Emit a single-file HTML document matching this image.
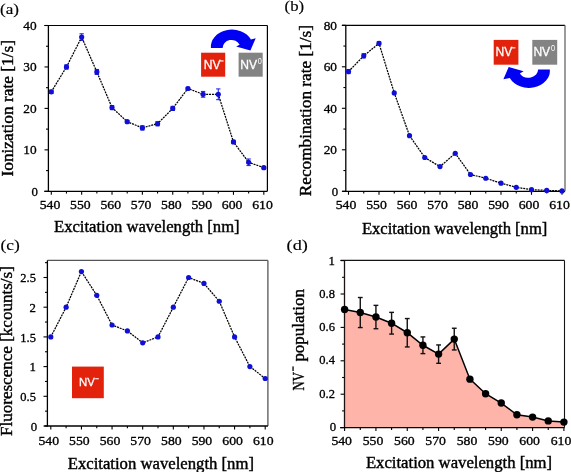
<!DOCTYPE html><html><head><meta charset="utf-8"><style>html,body{margin:0;padding:0;background:#fff;}svg{display:block;will-change:transform}</style></head><body>
<svg width="571" height="472" viewBox="0 0 571 472" font-family="Liberation Serif" fill="#000"><style>text{stroke:#000;stroke-width:0.4px}</style>
<rect width="571" height="472" fill="#fff"/>
<line x1="44.3" y1="25.5" x2="267.4" y2="25.5" stroke="#000" stroke-width="1.2" />
<line x1="267.4" y1="25.5" x2="267.4" y2="191.3" stroke="#000" stroke-width="1.2" />
<line x1="44.5" y1="191.3" x2="48.4" y2="191.3" stroke="#000" stroke-width="1.1" />
<line x1="46" y1="170.58" x2="48.4" y2="170.58" stroke="#000" stroke-width="1.1" />
<line x1="44.5" y1="149.85" x2="48.4" y2="149.85" stroke="#000" stroke-width="1.1" />
<line x1="46" y1="129.12" x2="48.4" y2="129.12" stroke="#000" stroke-width="1.1" />
<line x1="44.5" y1="108.4" x2="48.4" y2="108.4" stroke="#000" stroke-width="1.1" />
<line x1="46" y1="87.68" x2="48.4" y2="87.68" stroke="#000" stroke-width="1.1" />
<line x1="44.5" y1="66.95" x2="48.4" y2="66.95" stroke="#000" stroke-width="1.1" />
<line x1="46" y1="46.23" x2="48.4" y2="46.23" stroke="#000" stroke-width="1.1" />
<line x1="44.5" y1="25.5" x2="48.4" y2="25.5" stroke="#000" stroke-width="1.1" />
<line x1="51.3" y1="191.3" x2="51.3" y2="194.8" stroke="#000" stroke-width="1.1" />
<line x1="66.48" y1="191.3" x2="66.48" y2="193.6" stroke="#000" stroke-width="1.1" />
<line x1="81.66" y1="191.3" x2="81.66" y2="194.8" stroke="#000" stroke-width="1.1" />
<line x1="96.84" y1="191.3" x2="96.84" y2="193.6" stroke="#000" stroke-width="1.1" />
<line x1="112.02" y1="191.3" x2="112.02" y2="194.8" stroke="#000" stroke-width="1.1" />
<line x1="127.2" y1="191.3" x2="127.2" y2="193.6" stroke="#000" stroke-width="1.1" />
<line x1="142.38" y1="191.3" x2="142.38" y2="194.8" stroke="#000" stroke-width="1.1" />
<line x1="157.56" y1="191.3" x2="157.56" y2="193.6" stroke="#000" stroke-width="1.1" />
<line x1="172.74" y1="191.3" x2="172.74" y2="194.8" stroke="#000" stroke-width="1.1" />
<line x1="187.92" y1="191.3" x2="187.92" y2="193.6" stroke="#000" stroke-width="1.1" />
<line x1="203.1" y1="191.3" x2="203.1" y2="194.8" stroke="#000" stroke-width="1.1" />
<line x1="218.28" y1="191.3" x2="218.28" y2="193.6" stroke="#000" stroke-width="1.1" />
<line x1="233.46" y1="191.3" x2="233.46" y2="194.8" stroke="#000" stroke-width="1.1" />
<line x1="248.64" y1="191.3" x2="248.64" y2="193.6" stroke="#000" stroke-width="1.1" />
<line x1="263.82" y1="191.3" x2="263.82" y2="194.8" stroke="#000" stroke-width="1.1" />
<line x1="48.4" y1="25.5" x2="48.4" y2="191.9" stroke="#000" stroke-width="1.3" />
<line x1="44.3" y1="191.3" x2="267.4" y2="191.3" stroke="#000" stroke-width="1.3" />
<text x="37.8" y="195.6" font-size="12" text-anchor="end" textLength="6.4" lengthAdjust="spacingAndGlyphs" style="stroke-width:0.3px">0</text>
<text x="36.6" y="154.15" font-size="12" text-anchor="end" textLength="13.3" lengthAdjust="spacingAndGlyphs" style="stroke-width:0.3px">10</text>
<text x="36.6" y="112.7" font-size="12" text-anchor="end" textLength="13.3" lengthAdjust="spacingAndGlyphs" style="stroke-width:0.3px">20</text>
<text x="36.6" y="71.25" font-size="12" text-anchor="end" textLength="13.3" lengthAdjust="spacingAndGlyphs" style="stroke-width:0.3px">30</text>
<text x="36.6" y="29.8" font-size="12" text-anchor="end" textLength="13.3" lengthAdjust="spacingAndGlyphs" style="stroke-width:0.3px">40</text>
<text x="50" y="208.8" font-size="12" text-anchor="middle" textLength="20.6" lengthAdjust="spacingAndGlyphs" style="stroke-width:0.3px">540</text>
<text x="80.36" y="208.8" font-size="12" text-anchor="middle" textLength="20.6" lengthAdjust="spacingAndGlyphs" style="stroke-width:0.3px">550</text>
<text x="110.72" y="208.8" font-size="12" text-anchor="middle" textLength="20.6" lengthAdjust="spacingAndGlyphs" style="stroke-width:0.3px">560</text>
<text x="141.08" y="208.8" font-size="12" text-anchor="middle" textLength="20.6" lengthAdjust="spacingAndGlyphs" style="stroke-width:0.3px">570</text>
<text x="171.44" y="208.8" font-size="12" text-anchor="middle" textLength="20.6" lengthAdjust="spacingAndGlyphs" style="stroke-width:0.3px">580</text>
<text x="201.8" y="208.8" font-size="12" text-anchor="middle" textLength="20.6" lengthAdjust="spacingAndGlyphs" style="stroke-width:0.3px">590</text>
<text x="232.16" y="208.8" font-size="12" text-anchor="middle" textLength="20.6" lengthAdjust="spacingAndGlyphs" style="stroke-width:0.3px">600</text>
<text x="262.52" y="208.8" font-size="12" text-anchor="middle" textLength="20.6" lengthAdjust="spacingAndGlyphs" style="stroke-width:0.3px">610</text>
<line x1="51.3" y1="90.16" x2="51.3" y2="93.48" stroke="#1a1aee" stroke-width="1" />
<line x1="49.1" y1="90.16" x2="53.5" y2="90.16" stroke="#1a1aee" stroke-width="1" />
<line x1="49.1" y1="93.48" x2="53.5" y2="93.48" stroke="#1a1aee" stroke-width="1" />
<line x1="66.48" y1="64.88" x2="66.48" y2="69.02" stroke="#1a1aee" stroke-width="1" />
<line x1="64.28" y1="64.88" x2="68.68" y2="64.88" stroke="#1a1aee" stroke-width="1" />
<line x1="64.28" y1="69.02" x2="68.68" y2="69.02" stroke="#1a1aee" stroke-width="1" />
<line x1="81.66" y1="33.79" x2="81.66" y2="40.42" stroke="#1a1aee" stroke-width="1" />
<line x1="79.46" y1="33.79" x2="83.86" y2="33.79" stroke="#1a1aee" stroke-width="1" />
<line x1="79.46" y1="40.42" x2="83.86" y2="40.42" stroke="#1a1aee" stroke-width="1" />
<line x1="96.84" y1="69.44" x2="96.84" y2="74.41" stroke="#1a1aee" stroke-width="1" />
<line x1="94.64" y1="69.44" x2="99.04" y2="69.44" stroke="#1a1aee" stroke-width="1" />
<line x1="94.64" y1="74.41" x2="99.04" y2="74.41" stroke="#1a1aee" stroke-width="1" />
<line x1="112.02" y1="105.5" x2="112.02" y2="109.64" stroke="#1a1aee" stroke-width="1" />
<line x1="109.82" y1="105.5" x2="114.22" y2="105.5" stroke="#1a1aee" stroke-width="1" />
<line x1="109.82" y1="109.64" x2="114.22" y2="109.64" stroke="#1a1aee" stroke-width="1" />
<line x1="127.2" y1="120.42" x2="127.2" y2="122.91" stroke="#1a1aee" stroke-width="1" />
<line x1="125" y1="120.42" x2="129.4" y2="120.42" stroke="#1a1aee" stroke-width="1" />
<line x1="125" y1="122.91" x2="129.4" y2="122.91" stroke="#1a1aee" stroke-width="1" />
<line x1="142.38" y1="125.81" x2="142.38" y2="129.95" stroke="#1a1aee" stroke-width="1" />
<line x1="140.18" y1="125.81" x2="144.58" y2="125.81" stroke="#1a1aee" stroke-width="1" />
<line x1="140.18" y1="129.95" x2="144.58" y2="129.95" stroke="#1a1aee" stroke-width="1" />
<line x1="157.56" y1="121.66" x2="157.56" y2="125.81" stroke="#1a1aee" stroke-width="1" />
<line x1="155.36" y1="121.66" x2="159.76" y2="121.66" stroke="#1a1aee" stroke-width="1" />
<line x1="155.36" y1="125.81" x2="159.76" y2="125.81" stroke="#1a1aee" stroke-width="1" />
<line x1="172.74" y1="106.33" x2="172.74" y2="110.47" stroke="#1a1aee" stroke-width="1" />
<line x1="170.54" y1="106.33" x2="174.94" y2="106.33" stroke="#1a1aee" stroke-width="1" />
<line x1="170.54" y1="110.47" x2="174.94" y2="110.47" stroke="#1a1aee" stroke-width="1" />
<line x1="187.92" y1="87.26" x2="187.92" y2="89.75" stroke="#1a1aee" stroke-width="1" />
<line x1="185.72" y1="87.26" x2="190.12" y2="87.26" stroke="#1a1aee" stroke-width="1" />
<line x1="185.72" y1="89.75" x2="190.12" y2="89.75" stroke="#1a1aee" stroke-width="1" />
<line x1="203.1" y1="91.41" x2="203.1" y2="97.21" stroke="#1a1aee" stroke-width="1" />
<line x1="200.9" y1="91.41" x2="205.3" y2="91.41" stroke="#1a1aee" stroke-width="1" />
<line x1="200.9" y1="97.21" x2="205.3" y2="97.21" stroke="#1a1aee" stroke-width="1" />
<line x1="218.28" y1="88.92" x2="218.28" y2="99.7" stroke="#1a1aee" stroke-width="1" />
<line x1="216.08" y1="88.92" x2="220.48" y2="88.92" stroke="#1a1aee" stroke-width="1" />
<line x1="216.08" y1="99.7" x2="220.48" y2="99.7" stroke="#1a1aee" stroke-width="1" />
<line x1="233.46" y1="140.32" x2="233.46" y2="143.63" stroke="#1a1aee" stroke-width="1" />
<line x1="231.26" y1="140.32" x2="235.66" y2="140.32" stroke="#1a1aee" stroke-width="1" />
<line x1="231.26" y1="143.63" x2="235.66" y2="143.63" stroke="#1a1aee" stroke-width="1" />
<line x1="248.64" y1="158.97" x2="248.64" y2="165.6" stroke="#1a1aee" stroke-width="1" />
<line x1="246.44" y1="158.97" x2="250.84" y2="158.97" stroke="#1a1aee" stroke-width="1" />
<line x1="246.44" y1="165.6" x2="250.84" y2="165.6" stroke="#1a1aee" stroke-width="1" />
<line x1="263.82" y1="166.43" x2="263.82" y2="168.92" stroke="#1a1aee" stroke-width="1" />
<line x1="261.62" y1="166.43" x2="266.02" y2="166.43" stroke="#1a1aee" stroke-width="1" />
<line x1="261.62" y1="168.92" x2="266.02" y2="168.92" stroke="#1a1aee" stroke-width="1" />
<polyline points="51.3,91.82 66.48,66.95 81.66,37.11 96.84,71.92 112.02,107.57 127.2,121.66 142.38,127.88 157.56,123.74 172.74,108.4 187.92,88.5 203.1,94.31 218.28,94.31 233.46,141.97 248.64,162.29 263.82,167.67" fill="none" stroke="#000" stroke-width="1.25" stroke-opacity="1" stroke-dasharray="2 0.9"/>
<circle cx="51.3" cy="91.82" r="2.6" fill="#0f0fd8"/>
<circle cx="66.48" cy="66.95" r="2.6" fill="#0f0fd8"/>
<circle cx="81.66" cy="37.11" r="2.6" fill="#0f0fd8"/>
<circle cx="96.84" cy="71.92" r="2.6" fill="#0f0fd8"/>
<circle cx="112.02" cy="107.57" r="2.6" fill="#0f0fd8"/>
<circle cx="127.2" cy="121.66" r="2.6" fill="#0f0fd8"/>
<circle cx="142.38" cy="127.88" r="2.6" fill="#0f0fd8"/>
<circle cx="157.56" cy="123.74" r="2.6" fill="#0f0fd8"/>
<circle cx="172.74" cy="108.4" r="2.6" fill="#0f0fd8"/>
<circle cx="187.92" cy="88.5" r="2.6" fill="#0f0fd8"/>
<circle cx="203.1" cy="94.31" r="2.6" fill="#0f0fd8"/>
<circle cx="218.28" cy="94.31" r="2.6" fill="#0f0fd8"/>
<circle cx="233.46" cy="141.97" r="2.6" fill="#0f0fd8"/>
<circle cx="248.64" cy="162.29" r="2.6" fill="#0f0fd8"/>
<circle cx="263.82" cy="167.67" r="2.6" fill="#0f0fd8"/>
<text x="54" y="232" font-size="16" text-anchor="start" textLength="185.6" lengthAdjust="spacingAndGlyphs" >Excitation wavelength [nm]</text>
<text transform="translate(12.7,176.5) rotate(-90)" x="0" y="0" font-size="16" textLength="136.4" lengthAdjust="spacingAndGlyphs" >Ionization rate [1/s]</text>
<text x="0" y="14.4" font-size="15" text-anchor="start" textLength="19" lengthAdjust="spacingAndGlyphs" style="stroke-width:0.15px">(a)</text>
<line x1="341.9" y1="25.3" x2="565" y2="25.3" stroke="#000" stroke-width="1.3" />
<line x1="565" y1="25.3" x2="565" y2="191.3" stroke="#666" stroke-width="1.3" />
<line x1="341.9" y1="191.3" x2="345.8" y2="191.3" stroke="#000" stroke-width="1.1" />
<line x1="343.4" y1="170.55" x2="345.8" y2="170.55" stroke="#000" stroke-width="1.1" />
<line x1="341.9" y1="149.8" x2="345.8" y2="149.8" stroke="#000" stroke-width="1.1" />
<line x1="343.4" y1="129.05" x2="345.8" y2="129.05" stroke="#000" stroke-width="1.1" />
<line x1="341.9" y1="108.3" x2="345.8" y2="108.3" stroke="#000" stroke-width="1.1" />
<line x1="343.4" y1="87.55" x2="345.8" y2="87.55" stroke="#000" stroke-width="1.1" />
<line x1="341.9" y1="66.8" x2="345.8" y2="66.8" stroke="#000" stroke-width="1.1" />
<line x1="343.4" y1="46.05" x2="345.8" y2="46.05" stroke="#000" stroke-width="1.1" />
<line x1="341.9" y1="25.3" x2="345.8" y2="25.3" stroke="#000" stroke-width="1.1" />
<line x1="348.5" y1="191.3" x2="348.5" y2="194.8" stroke="#000" stroke-width="1.1" />
<line x1="363.75" y1="191.3" x2="363.75" y2="193.6" stroke="#000" stroke-width="1.1" />
<line x1="379" y1="191.3" x2="379" y2="194.8" stroke="#000" stroke-width="1.1" />
<line x1="394.25" y1="191.3" x2="394.25" y2="193.6" stroke="#000" stroke-width="1.1" />
<line x1="409.5" y1="191.3" x2="409.5" y2="194.8" stroke="#000" stroke-width="1.1" />
<line x1="424.75" y1="191.3" x2="424.75" y2="193.6" stroke="#000" stroke-width="1.1" />
<line x1="440" y1="191.3" x2="440" y2="194.8" stroke="#000" stroke-width="1.1" />
<line x1="455.25" y1="191.3" x2="455.25" y2="193.6" stroke="#000" stroke-width="1.1" />
<line x1="470.5" y1="191.3" x2="470.5" y2="194.8" stroke="#000" stroke-width="1.1" />
<line x1="485.75" y1="191.3" x2="485.75" y2="193.6" stroke="#000" stroke-width="1.1" />
<line x1="501" y1="191.3" x2="501" y2="194.8" stroke="#000" stroke-width="1.1" />
<line x1="516.25" y1="191.3" x2="516.25" y2="193.6" stroke="#000" stroke-width="1.1" />
<line x1="531.5" y1="191.3" x2="531.5" y2="194.8" stroke="#000" stroke-width="1.1" />
<line x1="546.75" y1="191.3" x2="546.75" y2="193.6" stroke="#000" stroke-width="1.1" />
<line x1="562" y1="191.3" x2="562" y2="194.8" stroke="#000" stroke-width="1.1" />
<line x1="345.8" y1="25.3" x2="345.8" y2="191.9" stroke="#000" stroke-width="1.3" />
<line x1="342.3" y1="191.3" x2="565" y2="191.3" stroke="#000" stroke-width="1.3" />
<text x="338.2" y="195.6" font-size="12" text-anchor="end" textLength="6.4" lengthAdjust="spacingAndGlyphs" style="stroke-width:0.3px">0</text>
<text x="337" y="154.1" font-size="12" text-anchor="end" textLength="13.3" lengthAdjust="spacingAndGlyphs" style="stroke-width:0.3px">20</text>
<text x="337" y="112.6" font-size="12" text-anchor="end" textLength="13.3" lengthAdjust="spacingAndGlyphs" style="stroke-width:0.3px">40</text>
<text x="337" y="71.1" font-size="12" text-anchor="end" textLength="13.3" lengthAdjust="spacingAndGlyphs" style="stroke-width:0.3px">60</text>
<text x="337" y="29.6" font-size="12" text-anchor="end" textLength="13.3" lengthAdjust="spacingAndGlyphs" style="stroke-width:0.3px">80</text>
<text x="346" y="208.8" font-size="12" text-anchor="middle" textLength="20.6" lengthAdjust="spacingAndGlyphs" style="stroke-width:0.3px">540</text>
<text x="376.5" y="208.8" font-size="12" text-anchor="middle" textLength="20.6" lengthAdjust="spacingAndGlyphs" style="stroke-width:0.3px">550</text>
<text x="407" y="208.8" font-size="12" text-anchor="middle" textLength="20.6" lengthAdjust="spacingAndGlyphs" style="stroke-width:0.3px">560</text>
<text x="437.5" y="208.8" font-size="12" text-anchor="middle" textLength="20.6" lengthAdjust="spacingAndGlyphs" style="stroke-width:0.3px">570</text>
<text x="468" y="208.8" font-size="12" text-anchor="middle" textLength="20.6" lengthAdjust="spacingAndGlyphs" style="stroke-width:0.3px">580</text>
<text x="498.5" y="208.8" font-size="12" text-anchor="middle" textLength="20.6" lengthAdjust="spacingAndGlyphs" style="stroke-width:0.3px">590</text>
<text x="529" y="208.8" font-size="12" text-anchor="middle" textLength="20.6" lengthAdjust="spacingAndGlyphs" style="stroke-width:0.3px">600</text>
<text x="559.5" y="208.8" font-size="12" text-anchor="middle" textLength="20.6" lengthAdjust="spacingAndGlyphs" style="stroke-width:0.3px">610</text>
<line x1="348.5" y1="69.5" x2="348.5" y2="73.65" stroke="#1a1aee" stroke-width="1" />
<line x1="346.3" y1="69.5" x2="350.7" y2="69.5" stroke="#1a1aee" stroke-width="1" />
<line x1="346.3" y1="73.65" x2="350.7" y2="73.65" stroke="#1a1aee" stroke-width="1" />
<line x1="363.75" y1="53.73" x2="363.75" y2="57.88" stroke="#1a1aee" stroke-width="1" />
<line x1="361.55" y1="53.73" x2="365.95" y2="53.73" stroke="#1a1aee" stroke-width="1" />
<line x1="361.55" y1="57.88" x2="365.95" y2="57.88" stroke="#1a1aee" stroke-width="1" />
<line x1="379" y1="41.69" x2="379" y2="45.01" stroke="#1a1aee" stroke-width="1" />
<line x1="376.8" y1="41.69" x2="381.2" y2="41.69" stroke="#1a1aee" stroke-width="1" />
<line x1="376.8" y1="45.01" x2="381.2" y2="45.01" stroke="#1a1aee" stroke-width="1" />
<polyline points="348.5,71.57 363.75,55.8 379,43.35 394.25,92.95 409.5,135.69 424.75,157.48 440,166.61 455.25,153.33 470.5,174.49 485.75,178.23 501,183.21 516.25,187.36 531.5,189.64 546.75,190.47 562,190.89" fill="none" stroke="#000" stroke-width="1.25" stroke-opacity="1" stroke-dasharray="2 0.9"/>
<circle cx="348.5" cy="71.57" r="2.6" fill="#0f0fd8"/>
<circle cx="363.75" cy="55.8" r="2.6" fill="#0f0fd8"/>
<circle cx="379" cy="43.35" r="2.6" fill="#0f0fd8"/>
<circle cx="394.25" cy="92.95" r="2.6" fill="#0f0fd8"/>
<circle cx="409.5" cy="135.69" r="2.6" fill="#0f0fd8"/>
<circle cx="424.75" cy="157.48" r="2.6" fill="#0f0fd8"/>
<circle cx="440" cy="166.61" r="2.6" fill="#0f0fd8"/>
<circle cx="455.25" cy="153.33" r="2.6" fill="#0f0fd8"/>
<circle cx="470.5" cy="174.49" r="2.6" fill="#0f0fd8"/>
<circle cx="485.75" cy="178.23" r="2.6" fill="#0f0fd8"/>
<circle cx="501" cy="183.21" r="2.6" fill="#0f0fd8"/>
<circle cx="516.25" cy="187.36" r="2.6" fill="#0f0fd8"/>
<circle cx="531.5" cy="189.64" r="2.6" fill="#0f0fd8"/>
<circle cx="546.75" cy="190.47" r="2.6" fill="#0f0fd8"/>
<circle cx="562" cy="190.89" r="2.6" fill="#0f0fd8"/>
<text x="361.9" y="233.6" font-size="16" text-anchor="start" textLength="185.5" lengthAdjust="spacingAndGlyphs" >Excitation wavelength [nm]</text>
<text transform="translate(311.3,196.2) rotate(-90)" x="0" y="0" font-size="16" textLength="171.2" lengthAdjust="spacingAndGlyphs" >Recombination rate [1/s]</text>
<text x="284.6" y="11.1" font-size="15" text-anchor="start" textLength="19.5" lengthAdjust="spacingAndGlyphs" style="stroke-width:0.15px">(b)</text>
<line x1="47.4" y1="260.4" x2="267.9" y2="260.4" stroke="#555" stroke-width="1.3" />
<line x1="267.9" y1="260.4" x2="267.9" y2="426" stroke="#555" stroke-width="1.3" />
<line x1="43.5" y1="426" x2="47.4" y2="426" stroke="#000" stroke-width="1.1" />
<line x1="45" y1="411.15" x2="47.4" y2="411.15" stroke="#000" stroke-width="1.1" />
<line x1="43.5" y1="396.3" x2="47.4" y2="396.3" stroke="#000" stroke-width="1.1" />
<line x1="45" y1="381.45" x2="47.4" y2="381.45" stroke="#000" stroke-width="1.1" />
<line x1="43.5" y1="366.6" x2="47.4" y2="366.6" stroke="#000" stroke-width="1.1" />
<line x1="45" y1="351.75" x2="47.4" y2="351.75" stroke="#000" stroke-width="1.1" />
<line x1="43.5" y1="336.9" x2="47.4" y2="336.9" stroke="#000" stroke-width="1.1" />
<line x1="45" y1="322.05" x2="47.4" y2="322.05" stroke="#000" stroke-width="1.1" />
<line x1="43.5" y1="307.2" x2="47.4" y2="307.2" stroke="#000" stroke-width="1.1" />
<line x1="45" y1="292.35" x2="47.4" y2="292.35" stroke="#000" stroke-width="1.1" />
<line x1="43.5" y1="277.5" x2="47.4" y2="277.5" stroke="#000" stroke-width="1.1" />
<line x1="45" y1="262.65" x2="47.4" y2="262.65" stroke="#000" stroke-width="1.1" />
<line x1="50.8" y1="426" x2="50.8" y2="429.5" stroke="#000" stroke-width="1.1" />
<line x1="66.11" y1="426" x2="66.11" y2="428.3" stroke="#000" stroke-width="1.1" />
<line x1="81.43" y1="426" x2="81.43" y2="429.5" stroke="#000" stroke-width="1.1" />
<line x1="96.75" y1="426" x2="96.75" y2="428.3" stroke="#000" stroke-width="1.1" />
<line x1="112.06" y1="426" x2="112.06" y2="429.5" stroke="#000" stroke-width="1.1" />
<line x1="127.38" y1="426" x2="127.38" y2="428.3" stroke="#000" stroke-width="1.1" />
<line x1="142.69" y1="426" x2="142.69" y2="429.5" stroke="#000" stroke-width="1.1" />
<line x1="158" y1="426" x2="158" y2="428.3" stroke="#000" stroke-width="1.1" />
<line x1="173.32" y1="426" x2="173.32" y2="429.5" stroke="#000" stroke-width="1.1" />
<line x1="188.63" y1="426" x2="188.63" y2="428.3" stroke="#000" stroke-width="1.1" />
<line x1="203.95" y1="426" x2="203.95" y2="429.5" stroke="#000" stroke-width="1.1" />
<line x1="219.26" y1="426" x2="219.26" y2="428.3" stroke="#000" stroke-width="1.1" />
<line x1="234.58" y1="426" x2="234.58" y2="429.5" stroke="#000" stroke-width="1.1" />
<line x1="249.89" y1="426" x2="249.89" y2="428.3" stroke="#000" stroke-width="1.1" />
<line x1="265.21" y1="426" x2="265.21" y2="429.5" stroke="#000" stroke-width="1.1" />
<line x1="47.4" y1="260.4" x2="47.4" y2="426.6" stroke="#000" stroke-width="1.3" />
<line x1="44.4" y1="426" x2="267.9" y2="426" stroke="#000" stroke-width="1.3" />
<text x="37.1" y="430.6" font-size="12" text-anchor="end" textLength="6.4" lengthAdjust="spacingAndGlyphs" style="stroke-width:0.3px">0</text>
<text x="35.9" y="400.9" font-size="12" text-anchor="end" textLength="15.6" lengthAdjust="spacingAndGlyphs" style="stroke-width:0.3px">0.5</text>
<text x="35.9" y="371.2" font-size="12" text-anchor="end" textLength="6.4" lengthAdjust="spacingAndGlyphs" style="stroke-width:0.3px">1</text>
<text x="35.9" y="341.5" font-size="12" text-anchor="end" textLength="15.6" lengthAdjust="spacingAndGlyphs" style="stroke-width:0.3px">1.5</text>
<text x="35.9" y="311.8" font-size="12" text-anchor="end" textLength="6.4" lengthAdjust="spacingAndGlyphs" style="stroke-width:0.3px">2</text>
<text x="35.9" y="282.1" font-size="12" text-anchor="end" textLength="15.6" lengthAdjust="spacingAndGlyphs" style="stroke-width:0.3px">2.5</text>
<text x="48.8" y="444.9" font-size="12" text-anchor="middle" textLength="20.6" lengthAdjust="spacingAndGlyphs" style="stroke-width:0.3px">540</text>
<text x="79.43" y="444.9" font-size="12" text-anchor="middle" textLength="20.6" lengthAdjust="spacingAndGlyphs" style="stroke-width:0.3px">550</text>
<text x="110.06" y="444.9" font-size="12" text-anchor="middle" textLength="20.6" lengthAdjust="spacingAndGlyphs" style="stroke-width:0.3px">560</text>
<text x="140.69" y="444.9" font-size="12" text-anchor="middle" textLength="20.6" lengthAdjust="spacingAndGlyphs" style="stroke-width:0.3px">570</text>
<text x="171.32" y="444.9" font-size="12" text-anchor="middle" textLength="20.6" lengthAdjust="spacingAndGlyphs" style="stroke-width:0.3px">580</text>
<text x="201.95" y="444.9" font-size="12" text-anchor="middle" textLength="20.6" lengthAdjust="spacingAndGlyphs" style="stroke-width:0.3px">590</text>
<text x="232.58" y="444.9" font-size="12" text-anchor="middle" textLength="20.6" lengthAdjust="spacingAndGlyphs" style="stroke-width:0.3px">600</text>
<text x="263.21" y="444.9" font-size="12" text-anchor="middle" textLength="20.6" lengthAdjust="spacingAndGlyphs" style="stroke-width:0.3px">610</text>
<polyline points="50.8,336.9 66.11,307.2 81.43,271.56 96.75,295.32 112.06,325.02 127.38,330.96 142.69,342.84 158,336.9 173.32,307.2 188.63,277.5 203.95,283.44 219.26,301.26 234.58,336.9 249.89,366.6 265.21,378.48" fill="none" stroke="#000" stroke-width="1.25" stroke-opacity="1" stroke-dasharray="2 0.9"/>
<circle cx="50.8" cy="336.9" r="2.6" fill="#0f0fd8"/>
<circle cx="66.11" cy="307.2" r="2.6" fill="#0f0fd8"/>
<circle cx="81.43" cy="271.56" r="2.6" fill="#0f0fd8"/>
<circle cx="96.75" cy="295.32" r="2.6" fill="#0f0fd8"/>
<circle cx="112.06" cy="325.02" r="2.6" fill="#0f0fd8"/>
<circle cx="127.38" cy="330.96" r="2.6" fill="#0f0fd8"/>
<circle cx="142.69" cy="342.84" r="2.6" fill="#0f0fd8"/>
<circle cx="158" cy="336.9" r="2.6" fill="#0f0fd8"/>
<circle cx="173.32" cy="307.2" r="2.6" fill="#0f0fd8"/>
<circle cx="188.63" cy="277.5" r="2.6" fill="#0f0fd8"/>
<circle cx="203.95" cy="283.44" r="2.6" fill="#0f0fd8"/>
<circle cx="219.26" cy="301.26" r="2.6" fill="#0f0fd8"/>
<circle cx="234.58" cy="336.9" r="2.6" fill="#0f0fd8"/>
<circle cx="249.89" cy="366.6" r="2.6" fill="#0f0fd8"/>
<circle cx="265.21" cy="378.48" r="2.6" fill="#0f0fd8"/>
<text x="67.7" y="468.6" font-size="16" text-anchor="start" textLength="186.3" lengthAdjust="spacingAndGlyphs" >Excitation wavelength [nm]</text>
<text transform="translate(12.1,436) rotate(-90)" x="0" y="0" font-size="16" textLength="169.9" lengthAdjust="spacingAndGlyphs" >Fluorescence [kcounts/s]</text>
<text x="0.4" y="249.9" font-size="15" text-anchor="start" textLength="19.3" lengthAdjust="spacingAndGlyphs" style="stroke-width:0.15px">(c)</text>
<polygon points="344.6,427.6 344.6,309.53 360.27,312.54 375.93,317.05 391.6,323.23 407.26,332.74 422.93,345.27 438.59,354.12 454.25,339.09 469.92,379.17 485.59,393.7 501.25,403.05 516.91,414.74 532.58,417.08 548.25,420.92 563.91,422.09 563.91,427.6" fill="#ffb4aa"/>
<line x1="340.5" y1="260.4" x2="564.5" y2="260.4" stroke="#151515" stroke-width="1.1" />
<line x1="564.5" y1="260.4" x2="564.5" y2="427.6" stroke="#151515" stroke-width="1.1" />
<line x1="340.6" y1="427.6" x2="344.5" y2="427.6" stroke="#000" stroke-width="1.1" />
<line x1="342.1" y1="410.9" x2="344.5" y2="410.9" stroke="#000" stroke-width="1.1" />
<line x1="340.6" y1="394.2" x2="344.5" y2="394.2" stroke="#000" stroke-width="1.1" />
<line x1="342.1" y1="377.5" x2="344.5" y2="377.5" stroke="#000" stroke-width="1.1" />
<line x1="340.6" y1="360.8" x2="344.5" y2="360.8" stroke="#000" stroke-width="1.1" />
<line x1="342.1" y1="344.1" x2="344.5" y2="344.1" stroke="#000" stroke-width="1.1" />
<line x1="340.6" y1="327.4" x2="344.5" y2="327.4" stroke="#000" stroke-width="1.1" />
<line x1="342.1" y1="310.7" x2="344.5" y2="310.7" stroke="#000" stroke-width="1.1" />
<line x1="340.6" y1="294" x2="344.5" y2="294" stroke="#000" stroke-width="1.1" />
<line x1="342.1" y1="277.3" x2="344.5" y2="277.3" stroke="#000" stroke-width="1.1" />
<line x1="340.6" y1="260.6" x2="344.5" y2="260.6" stroke="#000" stroke-width="1.1" />
<line x1="344.6" y1="427.6" x2="344.6" y2="431.1" stroke="#000" stroke-width="1.1" />
<line x1="360.27" y1="427.6" x2="360.27" y2="429.9" stroke="#000" stroke-width="1.1" />
<line x1="375.93" y1="427.6" x2="375.93" y2="431.1" stroke="#000" stroke-width="1.1" />
<line x1="391.6" y1="427.6" x2="391.6" y2="429.9" stroke="#000" stroke-width="1.1" />
<line x1="407.26" y1="427.6" x2="407.26" y2="431.1" stroke="#000" stroke-width="1.1" />
<line x1="422.93" y1="427.6" x2="422.93" y2="429.9" stroke="#000" stroke-width="1.1" />
<line x1="438.59" y1="427.6" x2="438.59" y2="431.1" stroke="#000" stroke-width="1.1" />
<line x1="454.25" y1="427.6" x2="454.25" y2="429.9" stroke="#000" stroke-width="1.1" />
<line x1="469.92" y1="427.6" x2="469.92" y2="431.1" stroke="#000" stroke-width="1.1" />
<line x1="485.59" y1="427.6" x2="485.59" y2="429.9" stroke="#000" stroke-width="1.1" />
<line x1="501.25" y1="427.6" x2="501.25" y2="431.1" stroke="#000" stroke-width="1.1" />
<line x1="516.91" y1="427.6" x2="516.91" y2="429.9" stroke="#000" stroke-width="1.1" />
<line x1="532.58" y1="427.6" x2="532.58" y2="431.1" stroke="#000" stroke-width="1.1" />
<line x1="548.25" y1="427.6" x2="548.25" y2="429.9" stroke="#000" stroke-width="1.1" />
<line x1="563.91" y1="427.6" x2="563.91" y2="431.1" stroke="#000" stroke-width="1.1" />
<line x1="344.5" y1="260.4" x2="344.5" y2="428.2" stroke="#1c1212" stroke-width="1.3" />
<line x1="340.1" y1="427.6" x2="564.5" y2="427.6" stroke="#000" stroke-width="1.3" />
<text x="336.1" y="431.1" font-size="12" text-anchor="end" textLength="6.4" lengthAdjust="spacingAndGlyphs" style="stroke-width:0.3px">0</text>
<text x="334.9" y="397.7" font-size="12" text-anchor="end" textLength="15.6" lengthAdjust="spacingAndGlyphs" style="stroke-width:0.3px">0.2</text>
<text x="334.9" y="364.3" font-size="12" text-anchor="end" textLength="15.6" lengthAdjust="spacingAndGlyphs" style="stroke-width:0.3px">0.4</text>
<text x="334.9" y="330.9" font-size="12" text-anchor="end" textLength="15.6" lengthAdjust="spacingAndGlyphs" style="stroke-width:0.3px">0.6</text>
<text x="334.9" y="297.5" font-size="12" text-anchor="end" textLength="15.6" lengthAdjust="spacingAndGlyphs" style="stroke-width:0.3px">0.8</text>
<text x="334.9" y="265.1" font-size="12" text-anchor="end" textLength="6.4" lengthAdjust="spacingAndGlyphs" style="stroke-width:0.3px">1</text>
<text x="341.7" y="444.8" font-size="12" text-anchor="middle" textLength="20.6" lengthAdjust="spacingAndGlyphs" style="stroke-width:0.3px">540</text>
<text x="373.03" y="444.8" font-size="12" text-anchor="middle" textLength="20.6" lengthAdjust="spacingAndGlyphs" style="stroke-width:0.3px">550</text>
<text x="404.36" y="444.8" font-size="12" text-anchor="middle" textLength="20.6" lengthAdjust="spacingAndGlyphs" style="stroke-width:0.3px">560</text>
<text x="435.69" y="444.8" font-size="12" text-anchor="middle" textLength="20.6" lengthAdjust="spacingAndGlyphs" style="stroke-width:0.3px">570</text>
<text x="467.02" y="444.8" font-size="12" text-anchor="middle" textLength="20.6" lengthAdjust="spacingAndGlyphs" style="stroke-width:0.3px">580</text>
<text x="498.35" y="444.8" font-size="12" text-anchor="middle" textLength="20.6" lengthAdjust="spacingAndGlyphs" style="stroke-width:0.3px">590</text>
<text x="529.68" y="444.8" font-size="12" text-anchor="middle" textLength="20.6" lengthAdjust="spacingAndGlyphs" style="stroke-width:0.3px">600</text>
<text x="561.01" y="444.8" font-size="12" text-anchor="middle" textLength="20.6" lengthAdjust="spacingAndGlyphs" style="stroke-width:0.3px">610</text>
<line x1="360.27" y1="297.51" x2="360.27" y2="327.57" stroke="#111" stroke-width="1.4" />
<line x1="357.87" y1="297.51" x2="362.67" y2="297.51" stroke="#111" stroke-width="1.4" />
<line x1="357.87" y1="327.57" x2="362.67" y2="327.57" stroke="#111" stroke-width="1.4" />
<line x1="375.93" y1="305.36" x2="375.93" y2="328.74" stroke="#111" stroke-width="1.4" />
<line x1="373.53" y1="305.36" x2="378.33" y2="305.36" stroke="#111" stroke-width="1.4" />
<line x1="373.53" y1="328.74" x2="378.33" y2="328.74" stroke="#111" stroke-width="1.4" />
<line x1="391.6" y1="312.37" x2="391.6" y2="334.08" stroke="#111" stroke-width="1.4" />
<line x1="389.2" y1="312.37" x2="394" y2="312.37" stroke="#111" stroke-width="1.4" />
<line x1="389.2" y1="334.08" x2="394" y2="334.08" stroke="#111" stroke-width="1.4" />
<line x1="407.26" y1="318.55" x2="407.26" y2="346.94" stroke="#111" stroke-width="1.4" />
<line x1="404.86" y1="318.55" x2="409.66" y2="318.55" stroke="#111" stroke-width="1.4" />
<line x1="404.86" y1="346.94" x2="409.66" y2="346.94" stroke="#111" stroke-width="1.4" />
<line x1="422.93" y1="336.92" x2="422.93" y2="353.62" stroke="#111" stroke-width="1.4" />
<line x1="420.53" y1="336.92" x2="425.32" y2="336.92" stroke="#111" stroke-width="1.4" />
<line x1="420.53" y1="353.62" x2="425.32" y2="353.62" stroke="#111" stroke-width="1.4" />
<line x1="438.59" y1="344.94" x2="438.59" y2="363.31" stroke="#111" stroke-width="1.4" />
<line x1="436.19" y1="344.94" x2="440.99" y2="344.94" stroke="#111" stroke-width="1.4" />
<line x1="436.19" y1="363.31" x2="440.99" y2="363.31" stroke="#111" stroke-width="1.4" />
<line x1="454.25" y1="328.24" x2="454.25" y2="349.95" stroke="#111" stroke-width="1.4" />
<line x1="451.86" y1="328.24" x2="456.65" y2="328.24" stroke="#111" stroke-width="1.4" />
<line x1="451.86" y1="349.95" x2="456.65" y2="349.95" stroke="#111" stroke-width="1.4" />
<polyline points="344.6,309.53 360.27,312.54 375.93,317.05 391.6,323.23 407.26,332.74 422.93,345.27 438.59,354.12 454.25,339.09 469.92,379.17 485.59,393.7 501.25,403.05 516.91,414.74 532.58,417.08 548.25,420.92 563.91,422.09" fill="none" stroke="#000" stroke-width="1.5" stroke-opacity="1" />
<circle cx="344.6" cy="309.53" r="3.7" fill="#000"/>
<circle cx="360.27" cy="312.54" r="3.7" fill="#000"/>
<circle cx="375.93" cy="317.05" r="3.7" fill="#000"/>
<circle cx="391.6" cy="323.23" r="3.7" fill="#000"/>
<circle cx="407.26" cy="332.74" r="3.7" fill="#000"/>
<circle cx="422.93" cy="345.27" r="3.7" fill="#000"/>
<circle cx="438.59" cy="354.12" r="3.7" fill="#000"/>
<circle cx="454.25" cy="339.09" r="3.7" fill="#000"/>
<circle cx="469.92" cy="379.17" r="3.7" fill="#000"/>
<circle cx="485.59" cy="393.7" r="3.7" fill="#000"/>
<circle cx="501.25" cy="403.05" r="3.7" fill="#000"/>
<circle cx="516.91" cy="414.74" r="3.7" fill="#000"/>
<circle cx="532.58" cy="417.08" r="3.7" fill="#000"/>
<circle cx="548.25" cy="420.92" r="3.7" fill="#000"/>
<circle cx="563.91" cy="422.09" r="3.7" fill="#000"/>
<text x="365.9" y="468" font-size="16" text-anchor="start" textLength="186.2" lengthAdjust="spacingAndGlyphs" >Excitation wavelength [nm]</text>
<text transform="translate(303.8,390.5) rotate(-90)" x="0" y="0" font-size="16" textLength="18.3" lengthAdjust="spacingAndGlyphs" >NV</text>
<text transform="translate(303.8,361.6) rotate(-90)" x="0" y="0" font-size="16" textLength="72.5" lengthAdjust="spacingAndGlyphs" >population</text>
<rect x="292.4" y="366.4" width="1.3" height="4.6" fill="#000"/>
<text x="286.6" y="250.3" font-size="15" text-anchor="start" textLength="21.2" lengthAdjust="spacingAndGlyphs" style="stroke-width:0.15px">(d)</text>
<path d="M210.9,48.1 A21.04,17 0 0 1 250.9,39.4 L255.7,38.3 L250.4,50.5 L236.1,46.5 L239.6,44.7 A8.9,8.2 0 0 0 222.6,48.1 Z" fill="#0000f2"/>
<path d="M549.8,69.4 A21.04,17 0 0 1 509.8,78.1 L503.4,79.3 L508.7,67 L523.6,71.3 L519.8,73.6 A9.8,8.2 0 0 0 538.1,69.4 Z" fill="#0000f2"/>
<rect x="201.1" y="52.7" width="24.1" height="24" fill="#e2220b"/>
<text x="203.8" y="69.4" font-family="Liberation Sans" font-size="12.5" fill="#fff" style="stroke:#fff;stroke-width:0.3px" textLength="16.8" lengthAdjust="spacingAndGlyphs">NV</text>
<rect x="220" y="60.4" width="3.6" height="1.1" fill="#fff"/>
<rect x="238.6" y="52.7" width="24.1" height="24" fill="#838383"/>
<text x="240.2" y="69.4" font-family="Liberation Sans" font-size="12.5" fill="#fff" style="stroke:#fff;stroke-width:0.3px" textLength="16.8" lengthAdjust="spacingAndGlyphs">NV</text>
<text x="257.8" y="64.2" font-family="Liberation Sans" font-size="8.5" fill="#fff" style="stroke:none" textLength="4.1" lengthAdjust="spacingAndGlyphs">0</text>
<rect x="493.7" y="39.9" width="24.7" height="24.8" fill="#e2220b"/>
<text x="495.6" y="56.3" font-family="Liberation Sans" font-size="12.5" fill="#fff" style="stroke:#fff;stroke-width:0.3px" textLength="16.8" lengthAdjust="spacingAndGlyphs">NV</text>
<rect x="511.8" y="47.3" width="3.6" height="1.1" fill="#fff"/>
<rect x="532.3" y="39.9" width="24.9" height="24.8" fill="#838383"/>
<text x="533.4" y="56.3" font-family="Liberation Sans" font-size="12.5" fill="#fff" style="stroke:#fff;stroke-width:0.3px" textLength="16.8" lengthAdjust="spacingAndGlyphs">NV</text>
<text x="551" y="51.1" font-family="Liberation Sans" font-size="8.5" fill="#fff" style="stroke:none" textLength="4.1" lengthAdjust="spacingAndGlyphs">0</text>
<rect x="72" y="366.6" width="31.8" height="31.6" fill="#e2220b"/>
<text x="79" y="385.8" font-family="Liberation Sans" font-size="11.5" fill="#fff" style="stroke:#fff;stroke-width:0.3px" textLength="15.8" lengthAdjust="spacingAndGlyphs">NV</text>
<rect x="95.2" y="378.2" width="3.6" height="1.1" fill="#fff"/>
</svg></body></html>
